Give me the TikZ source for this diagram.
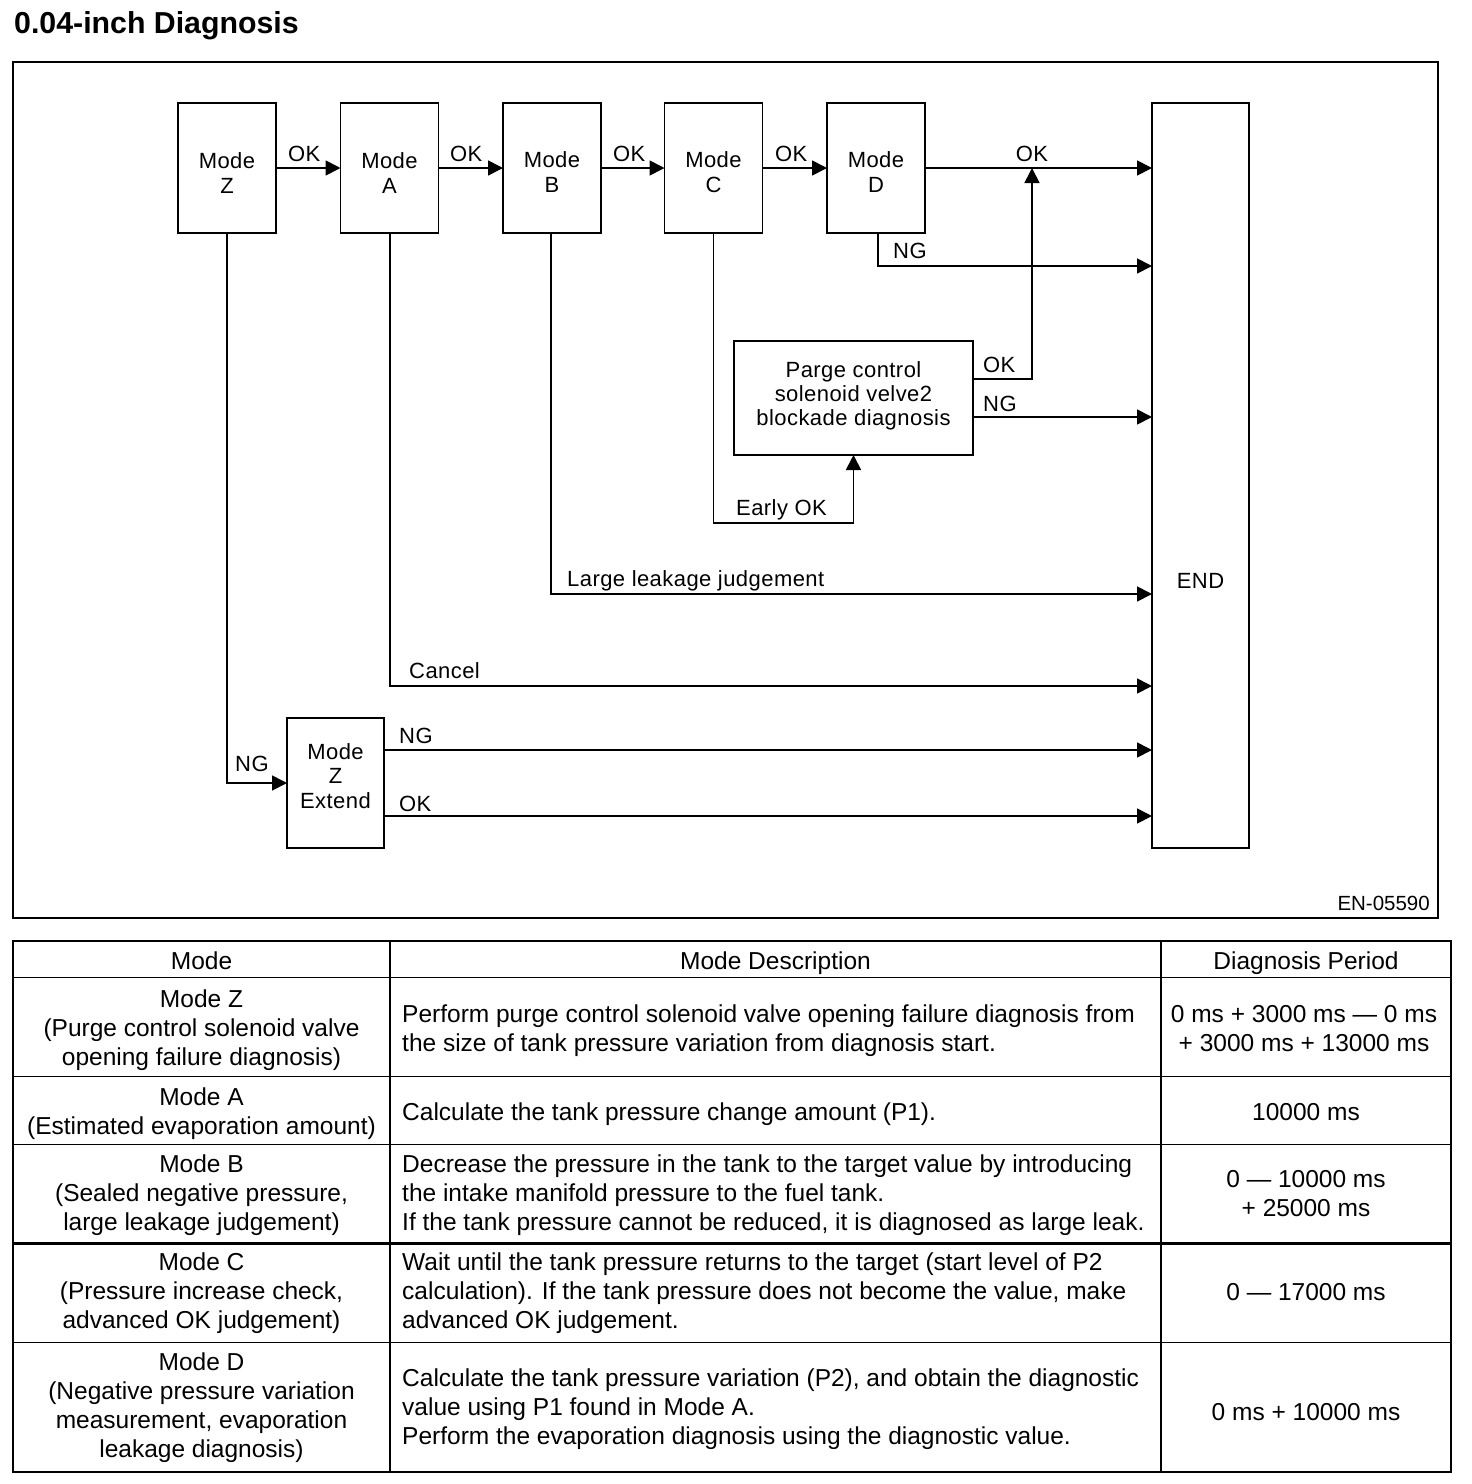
\documentclass[tikz,border=0pt]{standalone}
\usepackage{fontspec}
\setmainfont{Liberation Sans}
\newfontfamily\dfont[LetterSpace=2.0]{Liberation Sans}
\usetikzlibrary{arrows.meta}
\begin{document}
\begin{tikzpicture}[x=1pt,y=-1pt,
  box/.style={draw,line width=1.8pt,inner sep=0pt,outer sep=0pt},
  conn/.style={line width=1.7pt},
  arr/.style={conn,-{Triangle[length=15pt,width=15pt]}},
  lbl/.style={font=\dfont\fontsize{22}{25}\selectfont,inner sep=0pt},
  boxtxt/.style={font=\dfont\fontsize{22}{25}\selectfont,inner sep=0pt,align=center,anchor=north},
  tcell/.style={font=\fontsize{24.5}{29}\selectfont,inner sep=0pt,align=center,anchor=north},
  tdesc/.style={font=\fontsize{24.5}{29}\selectfont,inner sep=0pt,align=left,anchor=north west},
  tline/.style={line width=1.6pt}
]
\useasboundingbox (0,0) rectangle (1472,1484);

% title
\node[font=\fontsize{30.3}{34}\selectfont\bfseries,inner sep=0pt,anchor=base west] (title) at (14,33) {0.04-inch Diagnosis};

% frame
\draw[line width=1.5pt] (13,62) rectangle (1438,918);
\node[lbl,font=\fontsize{20.5}{24}\selectfont,anchor=base east] (code) at (1430,910) {EN-05590};

% boxes
\node[box,minimum width=98pt,minimum height=130pt] (mz) at (227,168) {};
\node[box,minimum width=98pt,minimum height=130pt] (ma) at (389.5,168) {};
\node[box,minimum width=98pt,minimum height=130pt] (mb) at (552,168) {};
\node[box,minimum width=98pt,minimum height=130pt] (mc) at (713.5,168) {};
\node[box,minimum width=98pt,minimum height=130pt] (md) at (876,168) {};
\node[box,minimum width=97pt,minimum height=745pt] (end) at (1200.5,475.5) {};
\node[box,minimum width=239pt,minimum height=114pt] (pg) at (853.5,398) {};
\node[box,minimum width=97pt,minimum height=130pt] (ext) at (335.5,783) {};

% box texts
\node[boxtxt] (mzt) at (227,150.5) {\strut Mode\\\strut Z};
\node[boxtxt] (mat) at (389.5,150.5) {\strut Mode\\\strut A};
\node[boxtxt] (mbt) at (552,149.5) {\strut Mode\\\strut B};
\node[boxtxt] (mct) at (713.5,149.5) {\strut Mode\\\strut C};
\node[boxtxt] (mdt) at (876,149.5) {\strut Mode\\\strut D};
\node[lbl,anchor=base] (endt) at (1200.5,588) {END};
\node[boxtxt,font=\dfont\fontsize{22}{24}\selectfont] (pgt) at (853.5,360.2) {\strut Parge control\\\strut solenoid velve2\\\strut blockade diagnosis};
\node[boxtxt,font=\dfont\fontsize{22}{24.5}\selectfont] (extt) at (335.5,741.9) {\strut Mode\\\strut Z\\\strut Extend};

% helper coordinates
\coordinate (okj) at (1032,168);
\coordinate (dng) at (878,266);
\coordinate (eok) at (853.5,523);
\coordinate (yB) at (0,594);
\coordinate (yA) at (0,686);
\coordinate (yZ) at (0,783);

% connectors
\draw[arr] (mz.east) -- (ma.west);
\draw[arr] (ma.east) -- (mb.west);
\draw[arr] (mb.east) -- (mc.west);
\draw[arr] (mc.east) -- (md.west);
\draw[arr] (md.east) -- (md.east -| end.west);
\draw[arr] ([xshift=2pt]md.south) |- (dng -| end.west);
\draw[arr] ([yshift=19pt]pg.east) -| (okj);
\draw[arr] ([yshift=-19pt]pg.east) -- ([yshift=-19pt]pg.east -| end.west);
\draw[arr] (mc.south) |- (eok) -- (pg.south);
\draw[arr] ([xshift=-1pt]mb.south) |- (yB -| end.west);
\draw[arr] ([xshift=0.5pt]ma.south) |- (yA -| end.west);
\draw[arr] (mz.south) |- (ext.west);
\draw[arr] ([yshift=33pt]ext.east) -- ([yshift=33pt]ext.east -| end.west);
\draw[arr] ([yshift=-33pt]ext.east) -- ([yshift=-33pt]ext.east -| end.west);

% labels
\node[lbl,anchor=base west] (l1) at (288,161) {OK};
\node[lbl,anchor=base west] (l2) at (450,161) {OK};
\node[lbl,anchor=base west] (l3) at (613,161) {OK};
\node[lbl,anchor=base west] (l4) at (775,161) {OK};
\node[lbl,anchor=base] (l5) at (1032,161) {OK};
\node[lbl,anchor=base west] (l6) at (893,258) {NG};
\node[lbl,anchor=base west] (l7) at (983,372.7) {OK};
\node[lbl,anchor=base west] (l8) at (983,411) {NG};
\node[lbl,anchor=base west] (l9) at (736,515) {Early OK};
\node[lbl,anchor=base west] (l10) at (567,586) {Large leakage judgement};
\node[lbl,anchor=base west] (l11) at (409,678) {Cancel};
\node[lbl,anchor=base west] (l12) at (399,743) {NG};
\node[lbl,anchor=base west] (l13) at (399,811) {OK};
\node[lbl,anchor=base west] (l14) at (235,771) {NG};

% table
\draw[line width=2pt] (13,941) rectangle (1451,1472);
\draw[tline] (390,941) -- (390,1472);
\draw[tline] (1161,941) -- (1161,1472);
\draw[tline] (13,977.5) -- (1451,977.5);
\draw[tline] (13,1076.5) -- (1451,1076.5);
\draw[tline] (13,1144.5) -- (1451,1144.5);
\draw[line width=2.6pt] (13,1243.5) -- (1451,1243.5);
\draw[tline] (13,1342.5) -- (1451,1342.5);

% header
\node[tcell] (h1) at (201.5,949) {\strut Mode};
\node[tcell] (h2) at (775.5,949) {\strut Mode Description};
\node[tcell] (h3) at (1306,949) {\strut Diagnosis Period};

% row Z
\node[tcell] (rz1) at (201.5,987) {\strut Mode Z\\\strut (Purge control solenoid valve\\\strut opening failure diagnosis)};
\node[tdesc] (rz2) at (402,1002) {\strut Perform purge control solenoid valve opening failure diagnosis from\\\strut the size of tank pressure variation from diagnosis start.};
\node[tcell] (rz3) at (1304,1001.5) {\strut 0 ms + 3000 ms — 0 ms\\\strut + 3000 ms + 13000 ms};

% row A
\node[tcell] (ra1) at (201.5,1084.5) {\strut Mode A\\\strut (Estimated evaporation amount)};
\node[tdesc] (ra2) at (402,1099.7) {\strut Calculate the tank pressure change amount (P1).};
\node[tcell] (ra3) at (1306,1099.7) {\strut 10000 ms};

% row B
\node[tcell] (rb1) at (201.5,1151.7) {\strut Mode B\\\strut (Sealed negative pressure,\\\strut large leakage judgement)};
\node[tdesc] (rb2) at (402,1151.7) {\strut Decrease the pressure in the tank to the target value by introducing\\\strut the intake manifold pressure to the fuel tank.\\\strut If the tank pressure cannot be reduced, it is diagnosed as large leak.};
\node[tcell] (rb3) at (1306,1166.7) {\strut 0 — 10000 ms\\\strut + 25000 ms};

% row C
\node[tcell] (rc1) at (201.5,1249.7) {\strut Mode C\\\strut (Pressure increase check,\\\strut advanced OK judgement)};
\node[tdesc] (rc2) at (402,1249.7) {\strut Wait until the tank pressure returns to the target (start level of P2\\\strut calculation). If the tank pressure does not become the value, make\\\strut advanced OK judgement.};
\node[tcell] (rc3) at (1306,1279.7) {\strut 0 — 17000 ms};

% row D
\node[tcell] (rd1) at (201.5,1349.7) {\strut Mode D\\\strut (Negative pressure variation\\\strut measurement, evaporation\\\strut leakage diagnosis)};
\node[tdesc] (rd2) at (402,1366.4) {\strut Calculate the tank pressure variation (P2), and obtain the diagnostic\\\strut value using P1 found in Mode A.\\\strut Perform the evaporation diagnosis using the diagnostic value.};
\node[tcell] (rd3) at (1306,1399.7) {\strut 0 ms + 10000 ms};
\end{tikzpicture}
\end{document}
